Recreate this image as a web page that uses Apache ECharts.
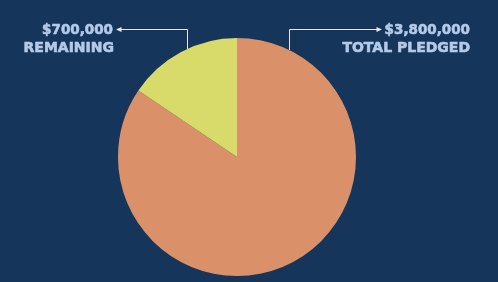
<!DOCTYPE html>
<html><head><meta charset="utf-8">
<script src="https://cdn.jsdelivr.net/npm/echarts@6/dist/echarts.min.js"></script>
<style>html,body{margin:0;padding:0;background:#15365A;}#c{width:498px;height:282px;}</style>
</head><body><div id="c"></div>
<script>
const categories = ['TOTAL PLEDGED', 'REMAINING'];
const values = [3800000, 700000];
const valueLabels = ['$3,800,000', '$700,000'];
const colors = ['#DA9169', '#D8DB69'];

const chart = echarts.init(document.getElementById('c'), null, {renderer: 'canvas'});
const txtColor = '#B4CAEA';
const lineColor = '#E6EAF0';
const font = '"DejaVu Sans", sans-serif';

function textEl(x, y, t, size) {
  return {type: 'text', x: x, y: y, style: {text: t, fill: txtColor, stroke: txtColor, lineWidth: 0.6, font: 'bold ' + size + 'px ' + font, textAlign: 'right', textVerticalAlign: 'middle'}};
}

chart.setOption({
  backgroundColor: '#15365A',
  animation: false,
  series: [{
    type: 'pie',
    center: [237, 157],
    radius: 119,
    startAngle: 90,
    clockwise: true,
    label: {show: false},
    labelLine: {show: false},
    itemStyle: {borderWidth: 0},
    emphasis: {disabled: true},
    data: categories.map((c, i) => ({name: c, value: values[i], itemStyle: {color: colors[i]}}))
  }],
  graphic: [
    textEl(113, 30, valueLabels[1], 13.5),
    textEl(114, 48.5, categories[1], 14),
    textEl(470, 30, valueLabels[0], 13.5),
    textEl(470, 48.5, categories[0], 14),
    {type: 'polyline', shape: {points: [[187.5, 49], [187.5, 29.5], [121, 29.5]]}, style: {stroke: lineColor, lineWidth: 1, fill: null}},
    {type: 'polygon', shape: {points: [[116, 29.5], [121.5, 27], [121.5, 32]]}, style: {fill: lineColor}},
    {type: 'polyline', shape: {points: [[289.5, 50], [289.5, 29.5], [377, 29.5]]}, style: {stroke: lineColor, lineWidth: 1, fill: null}},
    {type: 'polygon', shape: {points: [[382, 29.5], [376.5, 27], [376.5, 32]]}, style: {fill: lineColor}}
  ]
});
</script></body></html>
